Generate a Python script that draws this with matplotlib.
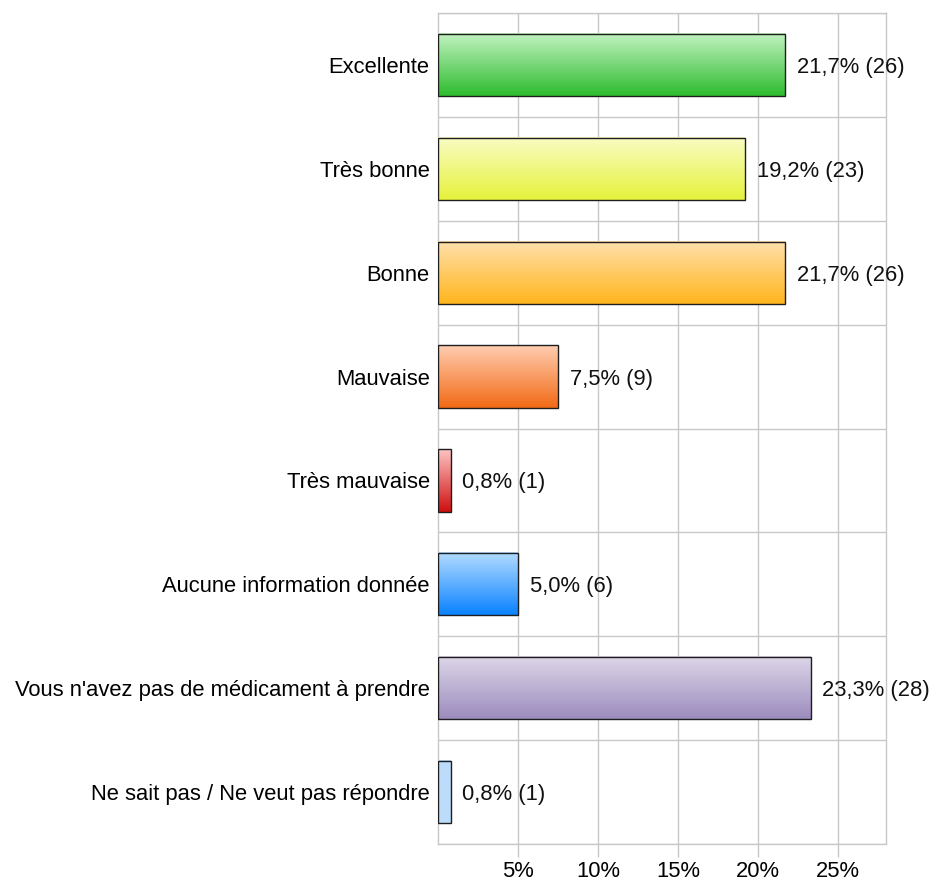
import numpy as np
import matplotlib
matplotlib.use("Agg")
import matplotlib.pyplot as plt
from matplotlib.colors import to_rgb
from matplotlib.patches import Rectangle

plt.rcParams['font.family'] = ['Liberation Sans', 'DejaVu Sans']

categories = ["Excellente", "Très bonne", "Bonne", "Mauvaise", "Très mauvaise",
              "Aucune information donnée", "Vous n'avez pas de médicament à prendre",
              "Ne sait pas / Ne veut pas répondre"]
percents = [21.7, 19.2, 21.7, 7.5, 0.8, 5.0, 23.3, 0.8]
counts = [26, 23, 26, 9, 1, 6, 28, 1]
xticks = [5, 10, 15, 20, 25]

# (top colour, bottom colour) of each bar's vertical gradient
bar_colors = [("#c2f2c2", "#2ebd2e"),
              ("#f9fcc4", "#e6f23c"),
              ("#ffe0ac", "#ffb51c"),
              ("#ffcdb0", "#f26a16"),
              ("#ffc4c4", "#d00e0e"),
              ("#b4dcff", "#0a82ff"),
              ("#ddd6e8", "#9c8cbe"),
              ("#bcdcfb", "#bcdcfb")]

grid_col = "#c8c8c8"
fs = 15.8

fig = plt.figure(figsize=(9.33, 8.81), dpi=100)
ax = fig.add_axes([438 / 933, 1 - 844 / 881, (886 - 438) / 933, (844 - 13) / 881])

n = len(categories)
ypos = np.arange(n)
bar_h = 0.6
xmax = 28

for i, (val, cnt) in enumerate(zip(percents, counts)):
    top, bot = to_rgb(bar_colors[i][0]), to_rgb(bar_colors[i][1])
    t = np.linspace(0, 1, 128)[:, None, None]
    grad = (1 - t) * np.array(top)[None, None, :] + t * np.array(bot)[None, None, :]
    y0, y1 = ypos[i] - bar_h / 2, ypos[i] + bar_h / 2
    ax.imshow(grad, extent=[0, val, y1, y0], origin='upper', aspect='auto',
              interpolation='bilinear', zorder=3)
    ax.add_patch(Rectangle((0, y0), val, bar_h, facecolor='none',
                           edgecolor="#1e1e1e", linewidth=1.0, zorder=4))
    ax.text(val + 0.72, ypos[i], f"{val:.1f}%".replace('.', ',') + f" ({cnt})",
            va='center_baseline', ha='left', fontsize=fs, color="#111111", zorder=5)

ax.set_xlim(0, xmax)
ax.set_ylim(n - 0.5, -0.5)

# vertical grid every 5 %, horizontal lines between categories
ax.set_xticks(xticks)
ax.set_xticklabels([f"{v}%" for v in xticks], fontsize=fs)
ax.xaxis.grid(True, color=grid_col, linewidth=1.0, zorder=0)
for b in np.arange(-0.5, n, 1.0):
    ax.axhline(b, color=grid_col, linewidth=1.0, zorder=0)
ax.tick_params(axis='x', length=9.5, color=grid_col, width=1.0, pad=3)

ax.set_yticks(ypos)
ax.set_yticklabels(categories, fontsize=fs)
ax.tick_params(axis='y', length=0, pad=6)

for sp in ax.spines.values():
    sp.set_color(grid_col)
    sp.set_linewidth(1.0)

fig.savefig("out.png", dpi=100, facecolor="white")
